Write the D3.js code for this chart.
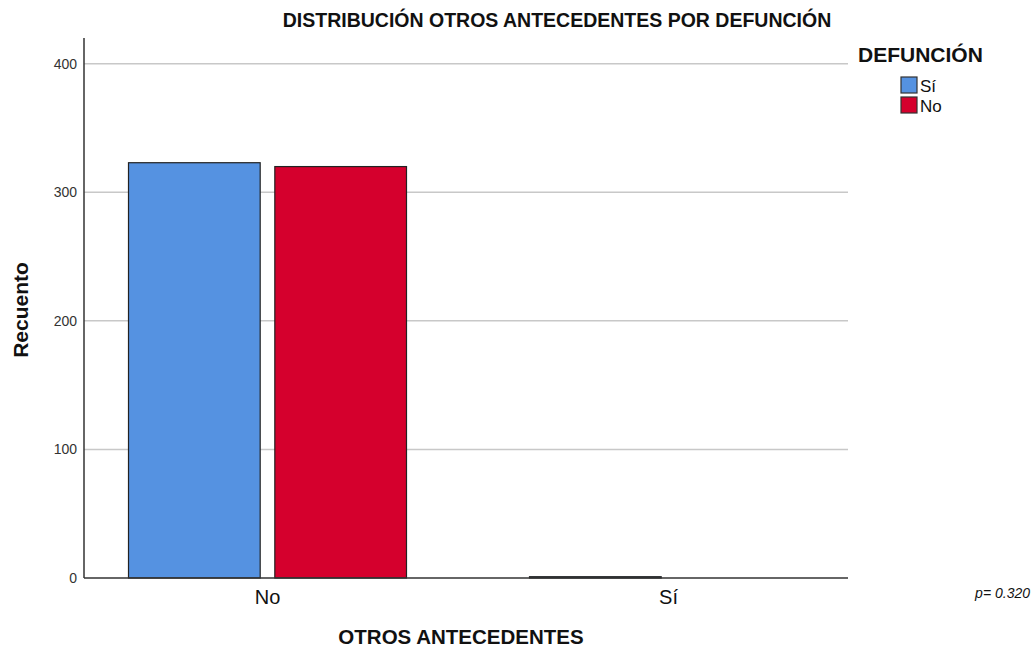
<!DOCTYPE html>
<html><head><meta charset="utf-8">
<script src="https://cdn.jsdelivr.net/npm/d3@7"></script>
<style>body{margin:0;background:#fff;font-family:Arial,"Liberation Sans",sans-serif;}</style>
</head><body>
<svg id="chart" width="1036" height="656"></svg>
<script>
const categories = ["No", "Sí"];
const seriesNames = ["Sí", "No"];
const valuesSi = [323, 1];
const valuesNo = [320, 0];
const yTicks = [0, 100, 200, 300, 400];
const colors = ["#5592e1", "#d5002d"];

(function () {
const svg = d3.select("#chart");
const mLeft = 84, mRight = 848, mTop = 38, mBottom = 578;
const FF = "Arial, Liberation Sans, sans-serif";

const y = d3.scaleLinear().domain([0, 420]).range([mBottom, mTop]);
const x0 = d3.scaleBand().domain(categories).range([67, 869]).paddingInner(0).paddingOuter(0);
const x1 = d3.scaleBand().domain(seriesNames).range([0, 278]).paddingInner(0.1);
const groupOffset = (x0.bandwidth() - 278) / 2;

// gridlines
svg.append("g").selectAll("line").data(yTicks.filter(d => d > 0)).join("line")
  .attr("x1", mLeft).attr("x2", mRight)
  .attr("y1", d => y(d)).attr("y2", d => y(d))
  .attr("stroke", "#c8c8c8").attr("stroke-width", 1.5);

// bars
const data = categories.map((c, i) => ({cat: c, vals: [valuesSi[i], valuesNo[i]]}));
const g = svg.append("g");
data.forEach(d => {
  d.vals.forEach((v, j) => {
    if (v <= 0) return;
    g.append("rect")
      .attr("x", x0(d.cat) + groupOffset + x1(seriesNames[j]))
      .attr("y", y(v))
      .attr("width", x1.bandwidth())
      .attr("height", mBottom - y(v))
      .attr("fill", colors[j])
      .attr("stroke", "#222").attr("stroke-width", 1.2);
  });
});

// y axis
const yAxis = d3.axisLeft(y).tickValues(yTicks).tickSize(0).tickPadding(7);
const ya = svg.append("g").attr("transform", `translate(${mLeft},0)`).call(yAxis);
ya.select(".domain").remove();
ya.selectAll("text").attr("font-size", 14).attr("fill", "#333").attr("font-family", FF);
svg.append("line").attr("x1", mLeft).attr("x2", mLeft).attr("y1", mTop).attr("y2", mBottom)
  .attr("stroke", "#333").attr("stroke-width", 1.5);

// x axis
const xAxis = d3.axisBottom(x0).tickSize(0).tickPadding(12);
const xa = svg.append("g").attr("transform", `translate(0,${mBottom})`).call(xAxis);
xa.select(".domain").remove();
xa.selectAll("text").attr("font-size", 20).attr("fill", "#111").attr("font-family", FF);
svg.append("line").attr("x1", mLeft).attr("x2", mRight).attr("y1", mBottom).attr("y2", mBottom)
  .attr("stroke", "#333").attr("stroke-width", 1.5);

// titles
svg.append("text").attr("x", 557).attr("y", 27).attr("text-anchor", "middle")
  .attr("font-size", 19.5).attr("font-weight", "bold").attr("fill", "#111")
  .text("DISTRIBUCIÓN OTROS ANTECEDENTES POR DEFUNCIÓN");
svg.append("text").attr("x", 461).attr("y", 644).attr("text-anchor", "middle")
  .attr("font-size", 20.5).attr("font-weight", "bold").attr("fill", "#111")
  .text("OTROS ANTECEDENTES");
svg.append("text").attr("transform", "translate(28,310) rotate(-90)").attr("text-anchor", "middle")
  .attr("font-size", 21).attr("font-weight", "bold").attr("fill", "#111")
  .text("Recuento");
svg.append("text").attr("x", 1030).attr("y", 598).attr("text-anchor", "end")
  .attr("font-size", 14).attr("font-style", "italic").attr("fill", "#111")
  .text("p= 0.320");

// legend
svg.append("text").attr("x", 858).attr("y", 62)
  .attr("font-size", 21).attr("font-weight", "bold").attr("fill", "#111").text("DEFUNCIÓN");
const lg = svg.append("g").attr("transform", "translate(901,77)");
seriesNames.forEach((s, j) => {
  lg.append("rect").attr("x", 0).attr("y", j * 20).attr("width", 16).attr("height", 16)
    .attr("fill", colors[j]).attr("stroke", "#333").attr("stroke-width", 1.2);
  lg.append("text").attr("x", 19).attr("y", j * 20 + 15)
    .attr("font-size", 17).attr("fill", "#111").text(s);
});
})();
</script>
</body></html>
